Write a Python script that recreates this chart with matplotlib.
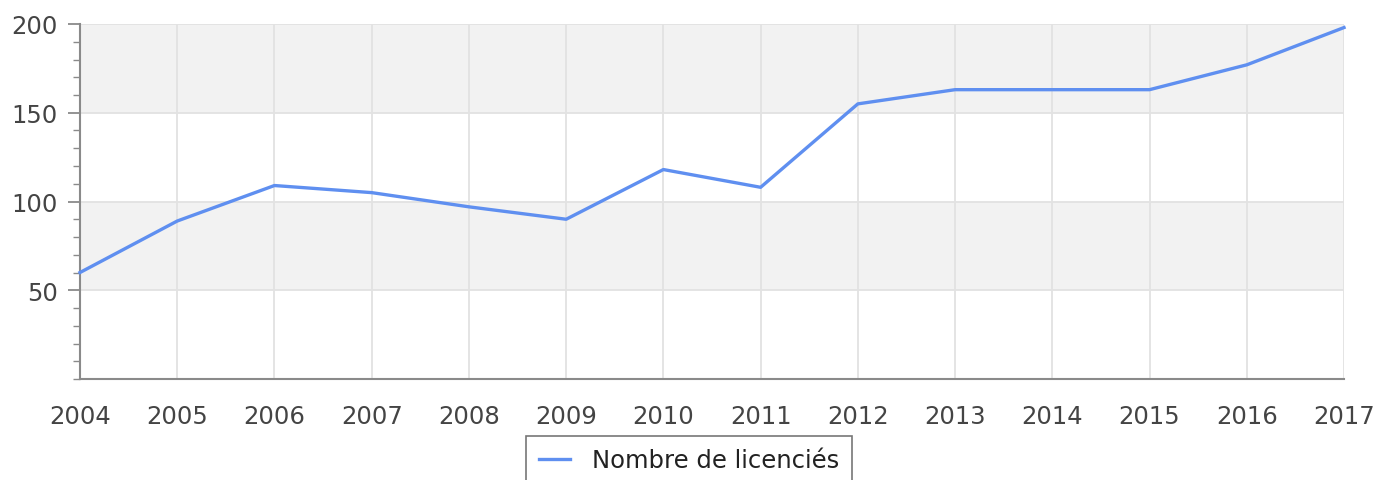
import matplotlib
matplotlib.use("Agg")
import matplotlib.pyplot as plt
from matplotlib.ticker import MultipleLocator

years = [2004, 2005, 2006, 2007, 2008, 2009, 2010, 2011, 2012, 2013, 2014, 2015, 2016, 2017]
licencies = [60, 89, 109, 105, 97, 90, 118, 108, 155, 163, 163, 163, 177, 198]
series_label = "Nombre de licenciés"
y_ticks = [50, 100, 150, 200]

W, H, DPI = 1376, 481, 100
PX = 72 / DPI  # points per pixel
fig = plt.figure(figsize=(W / DPI, H / DPI), dpi=DPI)
ax = fig.add_axes([80 / W, 1 - 380 / H, (1344 - 80) / W, (380 - 25) / H])

ax.set_xlim(years[0], years[-1])
ax.set_ylim(0, 200)

# alternating bands
for lo in range(0, 200, 50):
    if (lo // 50) % 2 == 1:
        ax.axhspan(lo, lo + 50, color="#f2f2f2", zorder=0, lw=0)

ax.set_xticks(years)
ax.set_xticklabels([str(y) for y in years])
ax.set_yticks(y_ticks)
ax.yaxis.set_minor_locator(MultipleLocator(10))
ax.grid(True, which="major", color="#e2e2e2", lw=1.3, zorder=1)
ax.set_axisbelow(True)

ax.plot(years, licencies, color="#5f8ff0", lw=2.4, zorder=3, label=series_label,
        solid_joinstyle="round", clip_on=False)

for s in ["top", "right"]:
    ax.spines[s].set_visible(False)
for s in ["left", "bottom"]:
    ax.spines[s].set_color("#8a8a8a")
    ax.spines[s].set_linewidth(1.5)

FS = 17.5
ax.tick_params(axis="y", which="major", length=12 * PX, width=1.3, color="#8a8a8a",
               labelsize=FS, labelcolor="#444444", pad=10 * PX)
ax.tick_params(axis="y", which="minor", length=7 * PX, width=1.0, color="#8a8a8a")
ax.tick_params(axis="x", which="major", length=0, labelsize=FS,
               labelcolor="#444444", pad=25 * PX)

leg = ax.legend(loc="upper center", bbox_to_anchor=((689 - 80) / (1344 - 80), -(437 - 380) / (380 - 25)),
                frameon=True, fancybox=False, fontsize=FS, handlelength=1.3,
                borderpad=0.5, handletextpad=0.9, labelcolor="#222222",
                borderaxespad=0)
leg.get_frame().set_edgecolor("#555555")
leg.get_frame().set_linewidth(1.2)

fig.savefig("out.png", dpi=DPI)
